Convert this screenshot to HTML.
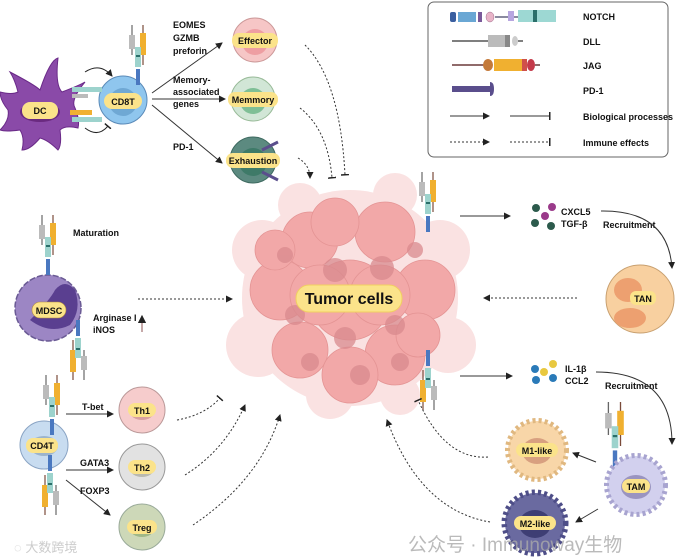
<!DOCTYPE html>
<html><head><meta charset="utf-8"><style>
html,body{margin:0;padding:0;background:#fff}
svg{display:block}
text{font-family:"Liberation Sans","Noto Sans CJK SC",sans-serif;font-weight:bold;fill:#111}
.s{font-size:9px}
</style></head><body>
<svg width="685" height="559" viewBox="0 0 685 559" xmlns="http://www.w3.org/2000/svg">
<defs>
<marker id="ah" markerWidth="7" markerHeight="7" refX="6" refY="3.5" orient="auto"><path d="M0,0 L7,3.5 L0,7z" fill="#222"/></marker>
<marker id="tb" markerWidth="2" markerHeight="8" refX="1" refY="4" orient="auto"><rect x="0" y="0" width="1.5" height="8" fill="#222"/></marker>
<symbol id="rec" viewBox="0 0 20 60" width="20" height="60">
<line x1="4" y1="0" x2="4" y2="30" stroke="#666" stroke-width="1.2"/>
<rect x="1" y="10" width="6" height="14" fill="#bbb"/>
<line x1="15" y1="0" x2="15" y2="40" stroke="#7a4b3a" stroke-width="1.2"/>
<rect x="12" y="8" width="6" height="22" fill="#f0b030"/>
<rect x="7" y="22" width="6" height="20" fill="#9dd3cd"/>
<rect x="8" y="30" width="4" height="2" fill="#2a6f6a"/>
<rect x="8" y="44" width="4" height="16" fill="#4a78c0"/>
</symbol>
</defs>

<!-- Legend -->
<rect x="428" y="2" width="240" height="155" rx="6" fill="#fff" stroke="#666" stroke-width="1"/>
<g>
<rect x="450" y="12" width="6" height="10" rx="2" fill="#3a5fa0"/>
<rect x="458" y="12" width="18" height="10" fill="#6aa7d4"/>
<rect x="478" y="12" width="4" height="10" fill="#7a5a9a"/>
<ellipse cx="490" cy="17" rx="4" ry="5" fill="#e8b4c8" stroke="#a06a8a" stroke-width=".5"/>
<line x1="495" y1="17" x2="520" y2="17" stroke="#446" stroke-width="1.2"/>
<rect x="508" y="11" width="6" height="10" fill="#b7a6e0"/>
<rect x="518" y="10" width="38" height="12" fill="#9dd8d3"/>
<rect x="533" y="10" width="4" height="12" fill="#2a6f6a"/>
<line x1="452" y1="41" x2="488" y2="41" stroke="#555" stroke-width="1.5"/>
<rect x="488" y="35" width="22" height="12" fill="#bbb"/>
<rect x="505" y="35" width="5" height="12" fill="#888"/>
<ellipse cx="515" cy="41" rx="3" ry="5" fill="#ccc"/>
<line x1="518" y1="41" x2="523" y2="41" stroke="#555" stroke-width="1.5"/>
<line x1="452" y1="65" x2="488" y2="65" stroke="#6b3a3a" stroke-width="1.5"/>
<ellipse cx="488" cy="65" rx="5" ry="6" fill="#c47a3a"/>
<rect x="494" y="59" width="28" height="12" fill="#f0b030"/>
<rect x="522" y="59" width="5" height="12" fill="#d0504a"/>
<ellipse cx="531" cy="65" rx="4" ry="6" fill="#c43a4a"/>
<line x1="535" y1="65" x2="540" y2="65" stroke="#6b3a3a" stroke-width="1.5"/>
<rect x="452" y="86" width="38" height="6" fill="#5a4e8c"/>
<path d="M490,82 q4,0 4,7 q0,7 -4,7z" fill="#5a4e8c"/>
<line x1="450" y1="116" x2="489" y2="116" stroke="#333" stroke-width="1" marker-end="url(#ah)"/>
<line x1="510" y1="116" x2="550" y2="116" stroke="#333" stroke-width="1" marker-end="url(#tb)"/>
<line x1="450" y1="142" x2="489" y2="142" stroke="#333" stroke-width="1" stroke-dasharray="2,2" marker-end="url(#ah)"/>
<line x1="510" y1="142" x2="550" y2="142" stroke="#333" stroke-width="1" stroke-dasharray="2,2" marker-end="url(#tb)"/>
</g>
<text class="s" x="583" y="20">NOTCH</text>
<text class="s" x="583" y="45">DLL</text>
<text class="s" x="583" y="69">JAG</text>
<text class="s" x="583" y="94">PD-1</text>
<text class="s" x="583" y="120">Biological processes</text>
<text class="s" x="583" y="146">Immune effects</text>

<!-- Tumor -->
<g>
<g fill="#fae2e2">
<circle cx="350" cy="298" r="108"/>
<circle cx="262" cy="250" r="30"/><circle cx="440" cy="250" r="30"/>
<circle cx="258" cy="345" r="32"/><circle cx="448" cy="345" r="28"/>
<circle cx="395" cy="195" r="22"/><circle cx="300" cy="205" r="22"/>
<circle cx="330" cy="395" r="24"/><circle cx="400" cy="395" r="20"/>
</g>
<g fill="#f2a8a8" stroke="#e49494" stroke-width=".8">
<circle cx="310" cy="240" r="28"/><circle cx="385" cy="232" r="30"/>
<circle cx="335" cy="222" r="24"/><circle cx="280" cy="290" r="30"/><circle cx="425" cy="290" r="30"/>
<circle cx="300" cy="350" r="28"/><circle cx="395" cy="355" r="30"/>
<circle cx="350" cy="375" r="28"/><circle cx="350" cy="300" r="40"/>
<circle cx="320" cy="295" r="30"/><circle cx="380" cy="295" r="30"/>
<circle cx="418" cy="335" r="22"/><circle cx="275" cy="250" r="20"/>
</g>
<g fill="#d98a8e" opacity=".75">
<circle cx="335" cy="270" r="12"/><circle cx="382" cy="268" r="12"/>
<circle cx="295" cy="315" r="10"/><circle cx="395" cy="325" r="10"/>
<circle cx="345" cy="338" r="11"/><circle cx="360" cy="375" r="10"/>
<circle cx="285" cy="255" r="8"/><circle cx="415" cy="250" r="8"/>
<circle cx="310" cy="362" r="9"/><circle cx="400" cy="362" r="9"/>
</g>
<rect x="296" y="285" width="106" height="27" rx="13" fill="#fbe38a" stroke="#f0cf60"/>
<text x="349" y="304" text-anchor="middle" style="font-size:16px">Tumor cells</text>
</g>
<use href="#rec" x="418" y="172" width="20" height="60"/>
<use href="#rec" x="418" y="360" width="20" height="60" transform="rotate(180 428 385)"/>

<!-- DC & CD8T -->
<path fill="#8a4aa8" stroke="#6a2a88" stroke-width="1" d="M10,72 Q35,85 40,90 Q50,60 58,58 Q55,85 62,92 Q80,85 85,82 Q70,100 75,108 Q80,120 78,128 Q65,125 60,130 Q62,145 58,150 Q48,140 40,138 Q30,150 22,150 Q25,138 20,130 Q5,132 0,130 Q10,120 8,110 Q0,100 0,92 Q12,95 18,92 Q15,80 10,72z"/>
<ellipse cx="40" cy="112" rx="20" ry="10" fill="#6a2a80"/>
<rect x="22" y="102" width="36" height="17" rx="8" fill="#fbe38a"/>
<text class="s" x="40" y="114" text-anchor="middle">DC</text>
<circle cx="123" cy="100" r="24" fill="#8fc6ee" stroke="#5a8ab8"/>
<circle cx="123" cy="102" r="14" fill="#6fa8d4"/>
<rect x="104" y="93" width="38" height="16" rx="8" fill="#fbe38a"/>
<text class="s" x="123" y="105" text-anchor="middle">CD8T</text>
<rect x="72" y="87" width="30" height="5" fill="#9dd3cd"/><rect x="72" y="94" width="16" height="4" fill="#bbb"/>
<rect x="70" y="110" width="22" height="5" fill="#f0b030"/><rect x="72" y="117" width="30" height="5" fill="#9dd3cd"/>
<use href="#rec" x="128" y="25" width="20" height="60"/>
<path d="M85,72 Q100,62 112,76" fill="none" stroke="#222" stroke-width="1" marker-end="url(#ah)"/>
<path d="M85,128 Q98,138 108,126" fill="none" stroke="#222" stroke-width="1" marker-end="url(#tb)"/>
<line x1="152" y1="93" x2="222" y2="43" stroke="#333" stroke-width="1" marker-end="url(#ah)"/>
<line x1="152" y1="99" x2="225" y2="99" stroke="#333" stroke-width="1" marker-end="url(#ah)"/>
<line x1="152" y1="105" x2="222" y2="163" stroke="#333" stroke-width="1" marker-end="url(#ah)"/>
<text class="s" x="173" y="28">EOMES</text><text class="s" x="173" y="41">GZMB</text><text class="s" x="173" y="54">preforin</text>
<text class="s" x="173" y="83">Memory-</text><text class="s" x="173" y="95">associated</text><text class="s" x="173" y="107">genes</text>
<text class="s" x="173" y="150">PD-1</text>

<circle cx="255" cy="40" r="22" fill="#f6c6c6" stroke="#c99"/><circle cx="255" cy="42" r="13" fill="#ee9ea2"/>
<rect x="232" y="33" width="46" height="15" rx="7" fill="#fbe38a"/><text class="s" x="255" y="44" text-anchor="middle">Effector</text>
<circle cx="253" cy="99" r="22" fill="#d1e6d6" stroke="#9b9"/><circle cx="253" cy="101" r="13" fill="#7fbf96"/>
<rect x="228" y="92" width="50" height="15" rx="7" fill="#fbe38a"/><text class="s" x="253" y="103" text-anchor="middle">Memmory</text>
<circle cx="253" cy="160" r="23" fill="#5c8a80" stroke="#3e6a60"/><circle cx="253" cy="162" r="14" fill="#3e7a68"/>
<rect x="226" y="153" width="54" height="15" rx="7" fill="#fbe38a"/><text class="s" x="253" y="164" text-anchor="middle">Exhaustion</text>
<line x1="262" y1="150" x2="278" y2="142" stroke="#5a4e8c" stroke-width="3"/>
<line x1="262" y1="172" x2="278" y2="180" stroke="#5a4e8c" stroke-width="3"/>

<path d="M305,45 Q340,80 345,175" fill="none" stroke="#333" stroke-dasharray="2,2" marker-end="url(#tb)"/>
<path d="M300,108 Q328,130 332,178" fill="none" stroke="#333" stroke-dasharray="2,2" marker-end="url(#tb)"/>
<path d="M298,158 Q310,165 310,178" fill="none" stroke="#333" stroke-dasharray="2,2" marker-end="url(#ah)"/>

<!-- MDSC -->
<circle cx="48" cy="308" r="33" fill="#9c86c4" stroke="#6a5a94" stroke-width="1.5" stroke-dasharray="6,2"/>
<path d="M30,320 Q50,300 55,290 Q65,278 75,290 Q82,310 70,325 Q50,335 30,320z" fill="#5a3f90"/>
<rect x="32" y="302" width="34" height="16" rx="8" fill="#fbe38a" stroke="#b08a40" stroke-width=".6"/>
<text class="s" x="49" y="314" text-anchor="middle">MDSC</text>
<use href="#rec" x="38" y="215" width="20" height="60"/>
<use href="#rec" x="68" y="300" width="20" height="60" transform="rotate(180 78 340)"/>
<text class="s" x="73" y="236">Maturation</text>
<text class="s" x="93" y="321">Arginase I</text><text class="s" x="93" y="333">iNOS</text>
<line x1="142" y1="332" x2="142" y2="316" stroke="#a07070" stroke-width="1.2" marker-end="url(#ah)"/>
<line x1="138" y1="299" x2="232" y2="299" stroke="#333" stroke-dasharray="2,2" marker-end="url(#ah)"/>

<!-- CD4T -->
<circle cx="44" cy="445" r="24" fill="#c8dcf0" stroke="#8aa4c4"/>
<ellipse cx="44" cy="446" rx="14" ry="10" fill="#9cb4cc"/>
<rect x="26" y="438" width="32" height="15" rx="7" fill="#fbe38a"/><text class="s" x="42" y="449" text-anchor="middle">CD4T</text>
<use href="#rec" x="42" y="375" width="20" height="60"/>
<use href="#rec" x="40" y="455" width="20" height="60" transform="rotate(180 50 485)"/>
<line x1="66" y1="414" x2="113" y2="414" stroke="#333" marker-end="url(#ah)"/>
<line x1="66" y1="470" x2="113" y2="470" stroke="#333" marker-end="url(#ah)"/>
<line x1="66" y1="480" x2="110" y2="515" stroke="#333" marker-end="url(#ah)"/>
<text class="s" x="82" y="410">T-bet</text><text class="s" x="80" y="466">GATA3</text><text class="s" x="80" y="494">FOXP3</text>
<circle cx="142" cy="410" r="23" fill="#f6cccc" stroke="#b99"/><ellipse cx="142" cy="412" rx="12" ry="8" fill="#d8a0a0"/>
<rect x="128" y="403" width="28" height="14" rx="7" fill="#fbe38a"/><text class="s" x="142" y="414" text-anchor="middle">Th1</text>
<circle cx="142" cy="467" r="23" fill="#e2e2e2" stroke="#999"/><ellipse cx="142" cy="469" rx="12" ry="8" fill="#b9b9b0"/>
<rect x="128" y="460" width="28" height="14" rx="7" fill="#fbe38a"/><text class="s" x="142" y="471" text-anchor="middle">Th2</text>
<circle cx="142" cy="527" r="23" fill="#cdd8b8" stroke="#9a9"/><ellipse cx="142" cy="529" rx="12" ry="8" fill="#a0b888"/>
<rect x="127" y="520" width="30" height="14" rx="7" fill="#fbe38a"/><text class="s" x="142" y="531" text-anchor="middle">Treg</text>
<path d="M177,420 Q205,415 220,398" fill="none" stroke="#333" stroke-dasharray="2,2" marker-end="url(#tb)"/>
<path d="M185,475 Q225,450 245,405" fill="none" stroke="#333" stroke-dasharray="2,2" marker-end="url(#ah)"/>
<path d="M193,525 Q260,480 280,415" fill="none" stroke="#333" stroke-dasharray="2,2" marker-end="url(#ah)"/>

<!-- right top -->
<line x1="460" y1="216" x2="510" y2="216" stroke="#333" marker-end="url(#ah)"/>
<circle cx="536" cy="208" r="4" fill="#2c5a4c"/><circle cx="552" cy="207" r="4" fill="#9a3a8a"/>
<circle cx="545" cy="216" r="4" fill="#9a3a8a"/><circle cx="535" cy="223" r="4" fill="#2c5a4c"/><circle cx="551" cy="226" r="4" fill="#2c5a4c"/>
<text class="s" x="561" y="215">CXCL5</text><text class="s" x="561" y="227">TGF-β</text>
<text class="s" x="603" y="228">Recruitment</text>
<path d="M601,211 Q668,210 672,268" fill="none" stroke="#333" marker-end="url(#ah)"/>
<circle cx="640" cy="299" r="34" fill="#f8d0a0" stroke="#c8a070"/>
<ellipse cx="628" cy="290" rx="14" ry="12" fill="#eda070"/><ellipse cx="630" cy="318" rx="16" ry="10" fill="#eda070"/>
<rect x="630" y="291" width="26" height="14" rx="6" fill="#fbe38a"/><text class="s" x="643" y="302" text-anchor="middle">TAN</text>
<line x1="577" y1="298" x2="484" y2="298" stroke="#333" stroke-dasharray="2,2" marker-end="url(#ah)"/>

<!-- right bottom -->
<line x1="460" y1="376" x2="512" y2="376" stroke="#333" marker-end="url(#ah)"/>
<circle cx="535" cy="369" r="4" fill="#2a7ab8"/><circle cx="553" cy="364" r="4" fill="#e8c840"/>
<circle cx="544" cy="372" r="4" fill="#e8c840"/><circle cx="536" cy="380" r="4" fill="#2a7ab8"/><circle cx="553" cy="378" r="4" fill="#2a7ab8"/>
<text class="s" x="565" y="372">IL-1β</text><text class="s" x="565" y="384">CCL2</text>
<text class="s" x="605" y="389">Recruitment</text>
<path d="M596,372 Q672,372 672,444" fill="none" stroke="#333" marker-end="url(#ah)"/>
<use href="#rec" x="604" y="402" width="22" height="66"/>

<circle cx="636" cy="485" r="29" fill="#d2d0ee" stroke="#a8a4d0" stroke-width="6" stroke-dasharray="3,3"/>
<circle cx="636" cy="485" r="27" fill="#d2d0ee"/>
<ellipse cx="636" cy="487" rx="15" ry="12" fill="#9a94c0"/>
<rect x="622" y="479" width="28" height="14" rx="7" fill="#fbe38a"/><text class="s" x="636" y="490" text-anchor="middle">TAM</text>
<circle cx="537" cy="450" r="29" fill="#f8d6a8" stroke="#e0b880" stroke-width="6" stroke-dasharray="3,3"/>
<circle cx="537" cy="450" r="27" fill="#f8d6a8"/>
<ellipse cx="537" cy="451" rx="15" ry="13" fill="#d8a080"/>
<rect x="516" y="443" width="42" height="14" rx="7" fill="#fbe38a"/><text class="s" x="537" y="454" text-anchor="middle">M1-like</text>
<circle cx="535" cy="523" r="30" fill="#6a6aa0" stroke="#4e4e88" stroke-width="7" stroke-dasharray="3,3"/>
<circle cx="535" cy="523" r="28" fill="#6a6aa0"/>
<ellipse cx="535" cy="524" rx="16" ry="14" fill="#3e3e74"/>
<rect x="514" y="516" width="42" height="14" rx="7" fill="#fbe38a"/><text class="s" x="535" y="527" text-anchor="middle">M2-like</text>
<line x1="596" y1="462" x2="573" y2="453" stroke="#333" marker-end="url(#ah)"/>
<line x1="598" y1="509" x2="576" y2="522" stroke="#333" marker-end="url(#ah)"/>
<path d="M488,457 Q445,460 418,400" fill="none" stroke="#333" stroke-dasharray="2,2" marker-end="url(#tb)"/>
<path d="M490,522 Q420,510 387,420" fill="none" stroke="#333" stroke-dasharray="2,2" marker-end="url(#ah)"/>

<!-- watermarks -->
<text x="408" y="551" style="font-size:19px;font-weight:normal;fill:#aaa;opacity:.8">公众号 · Immunoway生物</text>
<text x="14" y="552" style="font-size:13px;font-weight:normal;fill:#ccc">◌ 大数跨境</text>
</svg>
</body></html>
